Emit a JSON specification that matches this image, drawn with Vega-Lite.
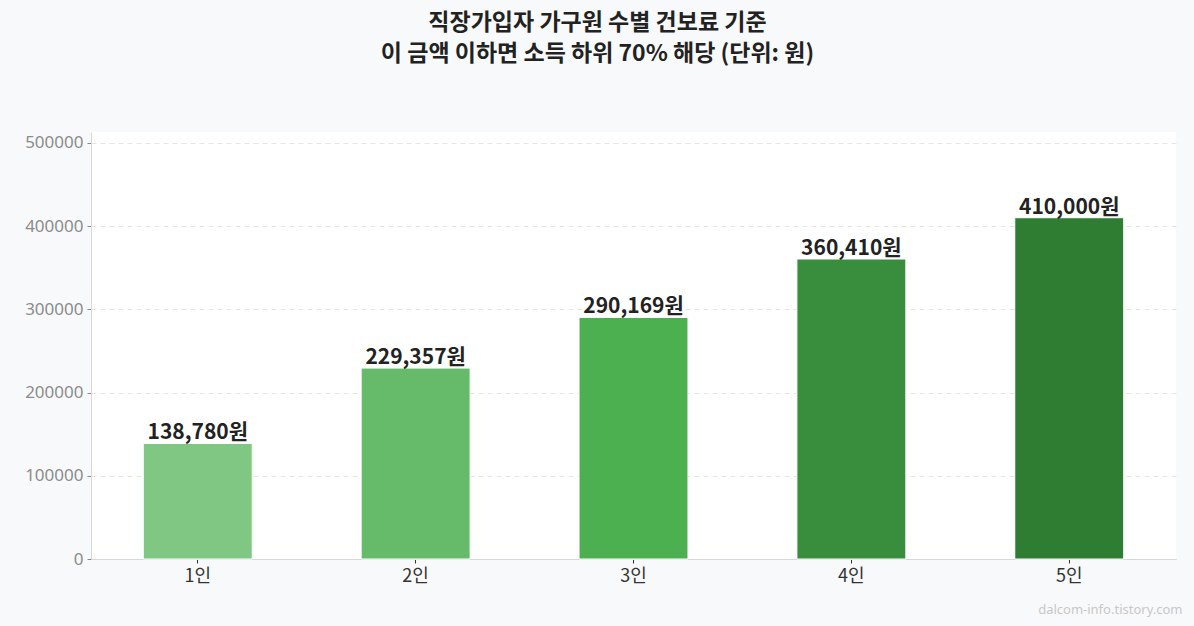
{
  "$schema": "https://vega.github.io/schema/vega-lite/v6.json",
  "width": 1085,
  "height": 427,
  "autosize": "none",
  "padding": {"left": 91, "top": 132, "right": 18, "bottom": 67},
  "background": "#f8f9fa",
  "title": {
    "text": ["직장가입자 가구원 수별 건보료 기준", "이 금액 이하면 소득 하위 70% 해당 (단위: 원)"],
    "anchor": "middle",
    "dx": -36,
    "offset": 66,
    "fontSize": 23,
    "fontWeight": "bold",
    "lineHeight": 31,
    "color": "#222222",
    "font": "Noto Sans CJK KR"
  },
  "data": {
    "values": [
      {"group": "1인", "amount": 138780, "label": "138,780원"},
      {"group": "2인", "amount": 229357, "label": "229,357원"},
      {"group": "3인", "amount": 290169, "label": "290,169원"},
      {"group": "4인", "amount": 360410, "label": "360,410원"},
      {"group": "5인", "amount": 410000, "label": "410,000원"}
    ]
  },
  "encoding": {
    "x": {
      "field": "group",
      "type": "nominal",
      "sort": null,
      "scale": {"paddingInner": 0.5, "paddingOuter": 0.24},
      "axis": {
        "title": "dalcom-info.tistory.com",
        "titleFont": "Noto Sans",
        "titleAnchor": "end",
        "titleAlign": "right",
        "titleX": 1091,
        "titleY": 44,
        "titleFontSize": 13,
        "titleFontWeight": "normal",
        "titleColor": "#c8c8c8",
        "labelAngle": 0,
        "labelFont": "Noto Sans CJK KR",
        "labelFontSize": 18,
        "labelColor": "#333333",
        "labelPadding": 4,
        "tickSize": 4,
        "tickColor": "#333333",
        "domainColor": "#d5d8dc"
      }
    },
    "y": {
      "field": "amount",
      "type": "quantitative",
      "scale": {"domain": [0, 513000], "nice": false},
      "axis": {
        "title": null,
        "values": [0, 100000, 200000, 300000, 400000, 500000],
        "format": "d",
        "labelFont": "Noto Sans",
        "labelFontSize": 17,
        "labelColor": "#8c8c8c",
        "labelPadding": 4,
        "tickSize": 4,
        "tickColor": "#888888",
        "domainColor": "#d5d8dc",
        "gridColor": "#e6e6e6",
        "gridDash": [5, 4]
      }
    }
  },
  "layer": [
    {
      "mark": {"type": "bar", "stroke": "white", "strokeWidth": 1},
      "encoding": {
        "color": {
          "field": "group",
          "type": "nominal",
          "sort": null,
          "scale": {"range": ["#81c784", "#66bb6a", "#4caf50", "#388e3c", "#2e7d32"]},
          "legend": null
        }
      }
    },
    {
      "mark": {"type": "text", "baseline": "bottom", "dy": 0, "fontSize": 21, "fontWeight": "bold", "color": "#222222", "font": "Noto Sans CJK KR"},
      "encoding": {"text": {"field": "label", "type": "nominal"}}
    }
  ],
  "config": {
    "font": "Noto Sans CJK KR",
    "view": {"fill": "white", "stroke": null}
  }
}
